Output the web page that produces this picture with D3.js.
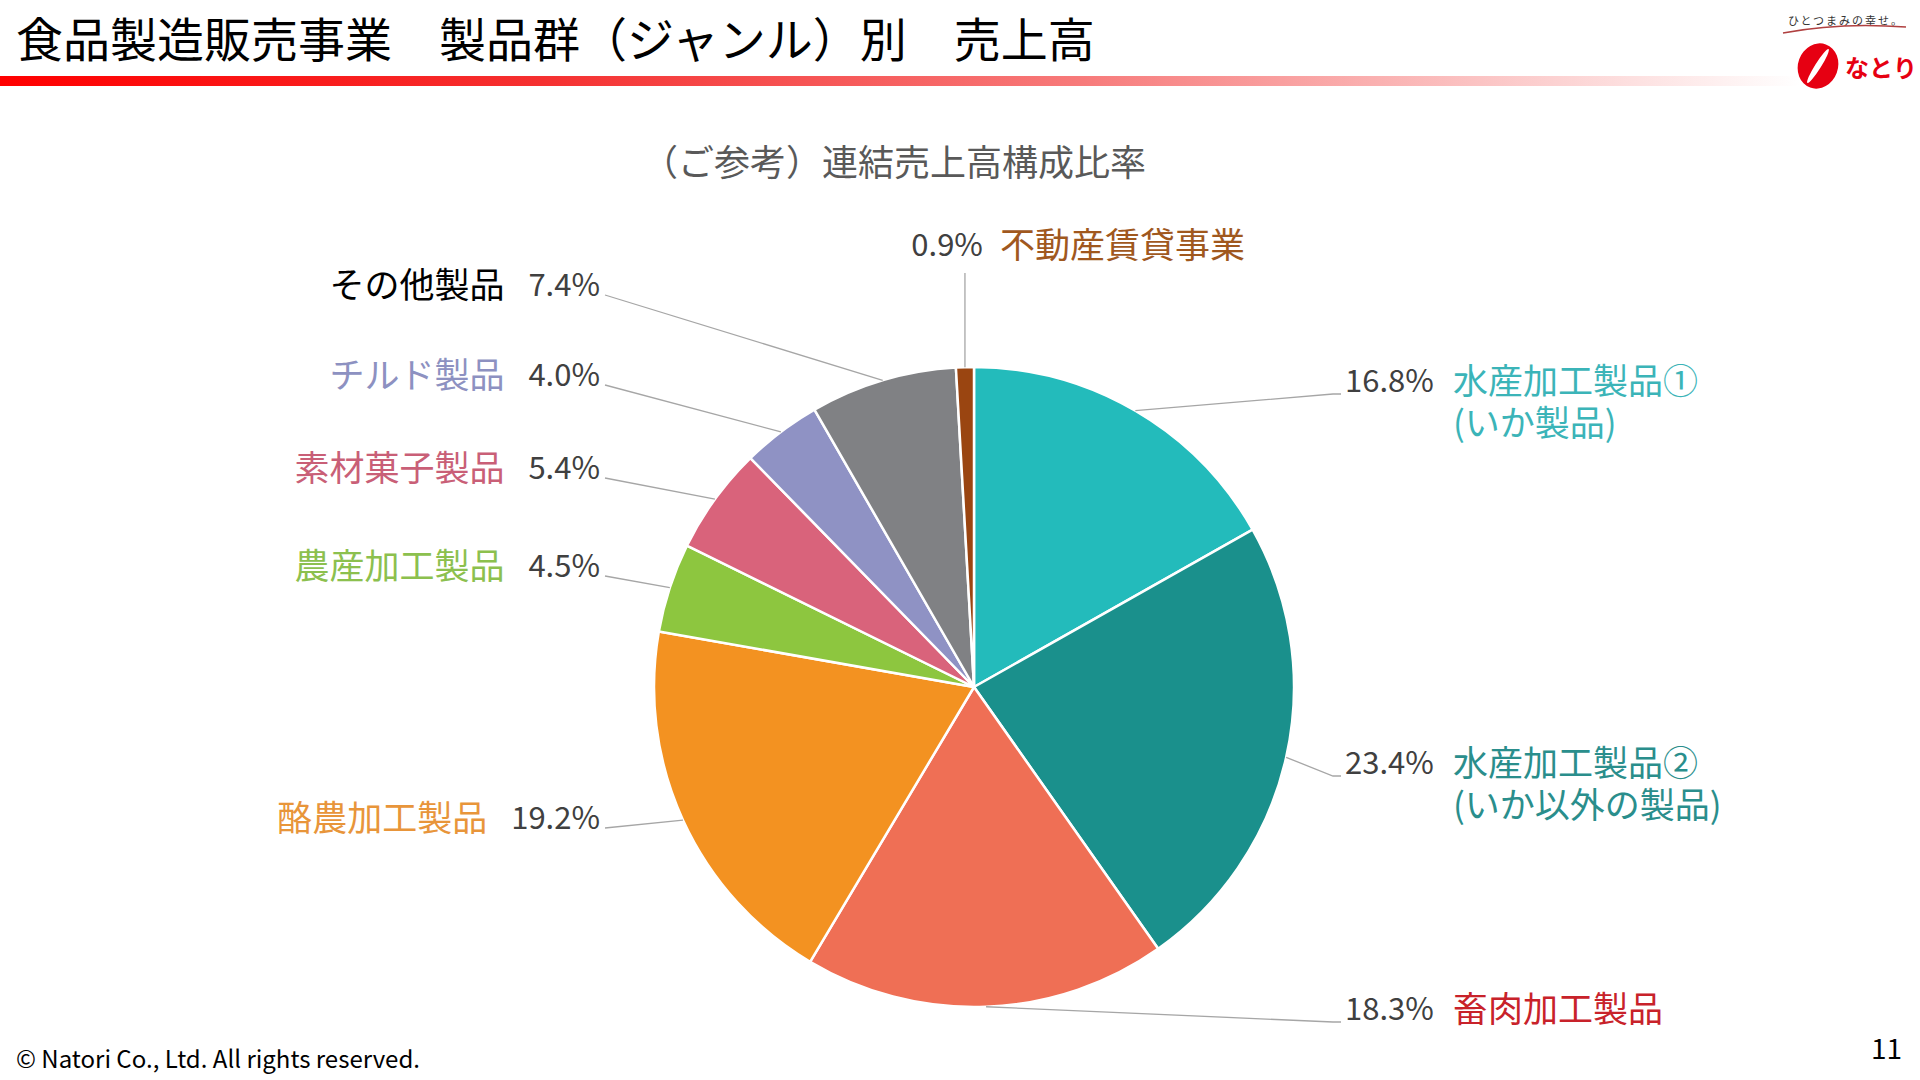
<!DOCTYPE html>
<html>
<head>
<meta charset="utf-8">
<script src="https://cdn.jsdelivr.net/npm/d3@7"></script>
<style>
  html, body { margin: 0; padding: 0; background: #fff; }
  text { font-family: "Noto Sans CJK JP", "Noto Sans", sans-serif; }
</style>
</head>
<body>
<script>
// chart data
const categories = ["水産加工製品①", "水産加工製品②", "畜肉加工製品", "酪農加工製品", "農産加工製品", "素材菓子製品", "チルド製品", "その他製品", "不動産賃貸事業"]
const subLabels = ["(いか製品)", "(いか以外の製品)", "", "", "", "", "", "", ""]
const shares = [16.8, 23.4, 18.3, 19.2, 4.5, 5.4, 4.0, 7.4, 0.9]
const sliceColors = ["#23bbbb", "#1a908c", "#ef6f55", "#f39221", "#8dc63f", "#d9637b", "#8f92c4", "#808184", "#9a4511"]
const labelColors = ["#3bb4b8", "#2a8e8c", "#c8222a", "#e8953a", "#8cc04e", "#c95f77", "#8d91c1", "#000000", "#a0581e"]

// label placement (manual in the original, like excel does it)
const labelSide = ["right", "right", "right", "left", "left", "left", "left", "left", "top"]
const labelY = [381, 763, 1009, 818, 566, 468, 375, 285, 245]

const W = 1920, H = 1080
const cx = 974, cy = 687, R = 320

const svg = d3.select("body").append("svg")
  .attr("width", W)
  .attr("height", H)
  .style("display", "block")

svg.append("rect").attr("width", W).attr("height", H).attr("fill", "#fff")

// header
const defs = svg.append("defs")
const grad = defs.append("linearGradient").attr("id", "head-bar")
  .attr("x1", 0).attr("x2", 1).attr("y1", 0).attr("y2", 0)
grad.selectAll("stop")
  .data([[0, "#ff0000"], [0.3, "#f53030"], [0.6, "#f77a7a"], [0.82, "#fbc3c3"], [1, "#ffffff"]])
  .join("stop")
  .attr("offset", d => d[0])
  .attr("stop-color", d => d[1])

svg.append("rect")
  .attr("x", 0).attr("y", 76)
  .attr("width", 1800).attr("height", 10)
  .attr("fill", "url(#head-bar)")

svg.append("text")
  .attr("x", 16).attr("y", 40).attr("dy", "0.36em")
  .attr("font-size", 47)
  .attr("fill", "#000")
  .text("食品製造販売事業　製品群（ジャンル）別　売上高")

// logo, top right
const logo = svg.append("g")
logo.append("text")
  .attr("x", 1846).attr("y", 21).attr("dy", "0.35em")
  .attr("text-anchor", "middle")
  .attr("font-size", 11)
  .attr("letter-spacing", 2)
  .attr("fill", "#333")
  .text("ひとつまみの幸せ。")
logo.append("path")
  .attr("d", "M1783,33 Q1840,22 1906,27")
  .attr("fill", "none")
  .attr("stroke", "#b04040")
  .attr("stroke-width", 1.5)
logo.append("ellipse")
  .attr("cx", 1818).attr("cy", 66)
  .attr("rx", 20).attr("ry", 23)
  .attr("transform", "rotate(20 1818 66)")
  .attr("fill", "#e60012")
logo.append("ellipse")
  .attr("cx", 1818).attr("cy", 66)
  .attr("rx", 3).attr("ry", 20)
  .attr("transform", "rotate(32 1818 66)")
  .attr("fill", "#fff")
logo.append("text")
  .attr("x", 1845).attr("y", 68).attr("dy", "0.36em")
  .attr("font-size", 24)
  .attr("font-weight", "bold")
  .attr("fill", "#e60012")
  .text("なとり")

// chart title
svg.append("text")
  .attr("x", 894).attr("y", 163).attr("dy", "0.36em")
  .attr("text-anchor", "middle")
  .attr("font-size", 36)
  .attr("fill", "#595959")
  .text("（ご参考）連結売上高構成比率")

// pie
const rows = categories.map((c, i) => ({
  name: c, sub: subLabels[i], value: shares[i],
  color: sliceColors[i], labelColor: labelColors[i],
  side: labelSide[i], ly: labelY[i]
}))

const pie = d3.pie().sort(null).value(d => d.value)
const arcs = pie(rows)
const arc = d3.arc().innerRadius(0).outerRadius(R)
const rim = d3.arc().innerRadius(R).outerRadius(R)

const g = svg.append("g").attr("transform", `translate(${cx},${cy})`)

g.selectAll("path.slice")
  .data(arcs)
  .join("path")
  .attr("class", "slice")
  .attr("d", arc)
  .attr("fill", d => d.data.color)
  .attr("stroke", "#fff")
  .attr("stroke-width", 2.5)
  .attr("stroke-linejoin", "round")

// labels + leader lines
const pctX = {left: 600, right: 1345}
const nameX = {right: 1453}
const pctSize = 31, nameSize = 35

function pctText(x, y, anchor, str) {
  return svg.append("text")
    .attr("x", x).attr("y", y).attr("dy", "0.36em")
    .attr("text-anchor", anchor)
    .attr("font-size", pctSize)
    .attr("fill", "#404040")
    .text(str)
}

function nameText(x, y, anchor, color, str) {
  return svg.append("text")
    .attr("x", x).attr("y", y).attr("dy", "0.36em")
    .attr("text-anchor", anchor)
    .attr("font-size", nameSize)
    .attr("fill", color)
    .text(str)
}

arcs.forEach(d => {
  let p = rim.centroid(d)
  let px = cx + p[0], py = cy + p[1]
  let row = d.data
  let pts
  let pct = row.value.toFixed(1) + "%"

  if (row.side == "top") {
    pts = [[px, py], [px, row.ly + 28]]
    pctText(px + 18, row.ly, "end", pct)
    nameText(px + 35, row.ly, "start", row.labelColor, row.name)
  } else if (row.side == "left") {
    pts = [[pctX.left + 5, row.ly + 10], [px, py]]
    let t = pctText(pctX.left, row.ly, "end", pct)
    let w = t.node().getComputedTextLength()
    nameText(pctX.left - w - 24, row.ly, "end", row.labelColor, row.name)
  } else {
    pts = [[px, py], [pctX.right - 12, row.ly + 13], [pctX.right - 4, row.ly + 13]]
    pctText(pctX.right, row.ly, "start", pct)
    nameText(nameX.right, row.ly, "start", row.labelColor, row.name)
    if (row.sub) nameText(nameX.right, row.ly + 42, "start", row.labelColor, row.sub)
  }

  svg.append("path")
    .attr("d", d3.line()(pts))
    .attr("fill", "none")
    .attr("stroke", "#a6a6a6")
    .attr("stroke-width", 1.3)
})

// footer
svg.append("text")
  .attr("x", 16).attr("y", 1060).attr("dy", "0.35em")
  .attr("font-size", 24)
  .attr("fill", "#000")
  .text("© Natori Co., Ltd. All rights reserved.")

svg.append("text")
  .attr("x", 1902).attr("y", 1049).attr("dy", "0.35em")
  .attr("text-anchor", "end")
  .attr("font-size", 28)
  .attr("fill", "#000")
  .text("11")
</script>
</body>
</html>
